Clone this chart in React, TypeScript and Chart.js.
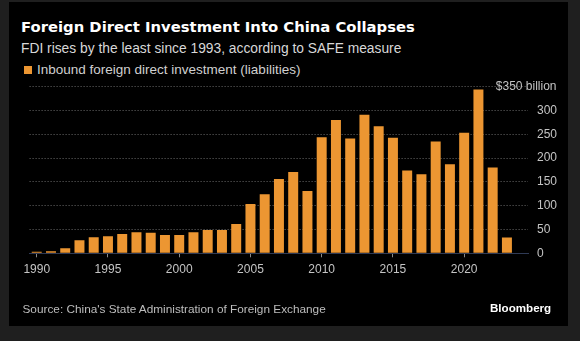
import React, { useEffect, useRef } from 'react';
import { Chart, registerables } from 'chart.js';

Chart.register(...registerables);

const years = [
  '1990', '1991', '1992', '1993', '1994', '1995', '1996', '1997', '1998', '1999',
  '2000', '2001', '2002', '2003', '2004', '2005', '2006', '2007', '2008', '2009',
  '2010', '2011', '2012', '2013', '2014', '2015', '2016', '2017', '2018', '2019',
  '2020', '2021', '2022', '2023', '2024',
];

const fdiBillions: (number | null)[] = [
  3, 4.4, 10.5, 27.2, 33.5, 35.6, 40.5, 44, 43.3, 38.4,
  38.4, 44, 49, 49, 61.5, 103.6, 124, 156, 171, 131,
  244, 280, 241, 291, 267, 243, 174, 166, 235, 187,
  253, 344, 180, 33, null,
];

const xTickLabels = ['1990', '1995', '2000', '2005', '2010', '2015', '2020'];
const yTickValues = [0, 50, 100, 150, 200, 250, 300, 350];
const yTopLabel = '$350 billion';

const titleText = 'Foreign Direct Investment Into China Collapses';
const subtitleText = 'FDI rises by the least since 1993, according to SAFE measure';
const legendText = 'Inbound foreign direct investment (liabilities)';
const sourceText = "Source: China's State Administration of Foreign Exchange";
const brandText = 'Bloomberg';

const BAR = '#ec9632';
const TICK_TEXT = '#c4c4c4';
const FONT = '"Liberation Sans", Arial, sans-serif';

export default function App() {
  const canvasRef = useRef<HTMLCanvasElement | null>(null);

  useEffect(() => {
    const canvas = canvasRef.current;
    if (!canvas) return;

    const topLabelPlugin = {
      id: 'topLabel',
      afterDraw(chart: any) {
        const ys = chart.scales.y;
        const ctx = chart.ctx;
        ctx.save();
        ctx.font = `12px ${FONT}`;
        ctx.fillStyle = TICK_TEXT;
        ctx.textAlign = 'right';
        ctx.textBaseline = 'middle';
        ctx.fillText(yTopLabel, chart.width - 23.5, ys.getPixelForValue(yTickValues[yTickValues.length - 1]));
        ctx.restore();
      },
    };

    const chart = new Chart(canvas, {
      type: 'bar',
      data: {
        labels: years,
        datasets: [
          {
            label: legendText,
            data: fdiBillions,
            backgroundColor: BAR,
            borderWidth: 0,
            categoryPercentage: 1,
            barPercentage: 0.7,
          },
        ],
      },
      options: {
        responsive: false,
        animation: false,
        layout: { padding: { left: 29.6, right: 0, top: 86.7, bottom: 0 } },
        plugins: {
          legend: { display: false },
          title: { display: false },
          tooltip: { enabled: false },
        },
        scales: {
          x: {
            type: 'category',
            position: 'bottom',
            afterFit: (scale: any) => {
              scale.height = 341 - 253.3;
            },
            grid: {
              display: true,
              drawOnChartArea: false,
              drawTicks: true,
              tickLength: 4,
              offset: false,
              color: (ctx: any) => {
                const lbl = years[ctx.index];
                return xTickLabels.includes(lbl) ? '#8a8a8a' : 'rgba(0,0,0,0)';
              },
            },
            border: { display: true, color: '#2f3a55', width: 1 },
            ticks: {
              autoSkip: false,
              maxRotation: 0,
              minRotation: 0,
              padding: 5.5,
              color: TICK_TEXT,
              font: { family: FONT, size: 12 },
              callback: (_v: any, idx: number) => (xTickLabels.includes(years[idx]) ? years[idx] : ''),
            },
          },
          y: {
            position: 'right',
            min: 0,
            max: 350,
            afterBuildTicks: (scale: any) => {
              scale.ticks = yTickValues.map((v) => ({ value: v }));
            },
            afterFit: (scale: any) => {
              scale.width = 580 - 528.3;
            },
            grid: {
              display: true,
              drawTicks: false,
              color: (ctx: any) => (ctx.tick && ctx.tick.value === 0 ? 'rgba(0,0,0,0)' : '#6a6a6a'),
              lineWidth: 1,
            },
            border: { display: false, dash: [1, 2] },
            ticks: {
              padding: 8.7,
              color: TICK_TEXT,
              font: { family: FONT, size: 12 },
              callback: (v: any) => (v === yTickValues[yTickValues.length - 1] ? '' : String(v)),
            },
          },
        },
      },
      plugins: [topLabelPlugin],
    } as any);

    return () => {
      chart.destroy();
    };
  }, []);

  const abs = (style: React.CSSProperties): React.CSSProperties => ({ position: 'absolute', whiteSpace: 'nowrap', ...style });

  return (
    <div style={{ position: 'fixed', left: 0, top: 0, width: 580, height: 341, background: '#1f1f1f', overflow: 'hidden' }}>
      <div style={abs({ left: 9, top: 2, width: 559, height: 324, background: '#000' })} />
      <div
        style={abs({
          left: 21,
          top: 19.6,
          fontFamily: '"DejaVu Sans", sans-serif',
          fontWeight: 'bold',
          fontSize: 14.8,
          lineHeight: '14.8px',
          color: '#ffffff',
        })}
      >
        {titleText}
      </div>
      <div
        style={abs({
          left: 21,
          top: 42,
          fontFamily: FONT,
          fontSize: 13.8,
          lineHeight: '13.8px',
          color: '#d8d8d8',
        })}
      >
        {subtitleText}
      </div>
      <div style={abs({ left: 23.5, top: 65.5, width: 8, height: 8, background: BAR })} />
      <div
        style={abs({
          left: 37,
          top: 62.6,
          fontFamily: FONT,
          fontSize: 13.5,
          lineHeight: '13.5px',
          color: '#d0d0d0',
        })}
      >
        {legendText}
      </div>
      <canvas ref={canvasRef} width={580} height={341} style={abs({ left: 0, top: 0, width: 580, height: 341 })} />
      <div
        style={abs({
          left: 22.5,
          top: 303.8,
          fontFamily: FONT,
          fontSize: 11.8,
          lineHeight: '11.8px',
          color: '#bdbdbd',
        })}
      >
        {sourceText}
      </div>
      <div
        style={abs({
          left: 490,
          top: 301.8,
          fontFamily: FONT,
          fontWeight: 'bold',
          fontSize: 11.6,
          lineHeight: '11.6px',
          color: '#ffffff',
        })}
      >
        {brandText}
      </div>
    </div>
  );
}
